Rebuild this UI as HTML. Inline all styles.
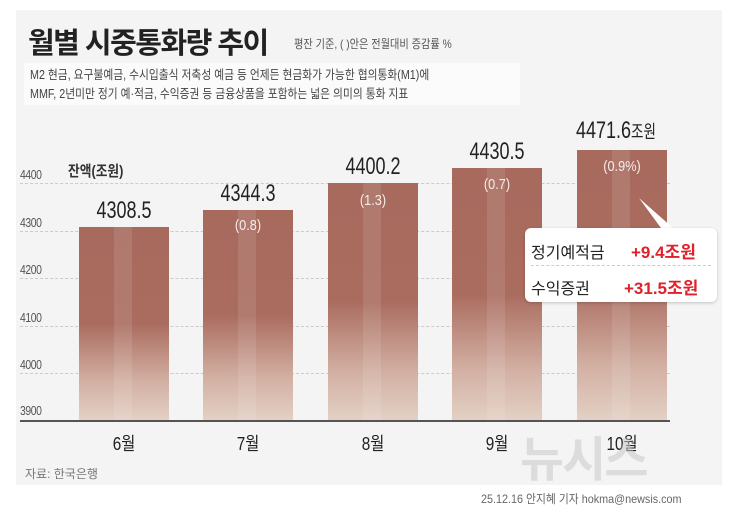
<!DOCTYPE html>
<html><head><meta charset="utf-8"><style>
body{margin:0;width:737px;height:520px;background:#fff;position:relative;overflow:hidden;font-family:"Liberation Sans","Noto Sans CJK KR",sans-serif}
.a{position:absolute;white-space:nowrap}
.panel{left:16px;top:10px;width:706px;height:475px;background:#f5f4f4}
.g{left:20px;width:650px;height:0;border-top:1px dashed #cfcaca}
.t{left:20px;font-size:13px;color:#555;letter-spacing:-0.5px;transform:scaleX(.8);transform-origin:left}
.bar{width:90px;bottom:100px;background:linear-gradient(#a86a5d 0%,#aa6c5f 50%,#d2b0a3 80%,#e3d0c4 100%)}
.bar::after{content:"";position:absolute;left:35px;width:18px;top:0;bottom:0;background:rgba(255,255,255,.1)}
.v{font-size:24px;color:#222;transform:scaleX(.75);transform-origin:center;width:120px;text-align:center}
.p{font-size:15px;color:#f6ecea;width:90px;text-align:center;transform:scaleX(.85)}
.m{font-size:18px;color:#222;width:90px;text-align:center;transform:scaleX(.85)}
</style></head><body>
<div class="a panel"></div>
<div class="a" style="left:28px;top:20px;font-size:29px;font-weight:bold;color:#222;letter-spacing:-1.5px">월별 시중통화량 추이</div>
<div class="a" style="left:294px;top:35px;font-size:12px;color:#555;transform:scaleX(.85);transform-origin:left">평잔 기준, ( )안은 전월대비 증감률 %</div>
<div class="a" style="left:24px;top:63px;width:496px;height:42px;background:#fbfbfb"></div>
<div class="a" style="left:30px;top:66px;font-size:12.5px;color:#444;line-height:19px;transform:scaleX(.86);transform-origin:left">M2 현금, 요구불예금, 수시입출식 저축성 예금 등 언제든 현금화가 가능한 협의통화(M1)에<br>MMF, 2년미만 정기 예·적금, 수익증권 등 금융상품을 포함하는 넓은 의미의 통화 지표</div>

<div class="a g" style="top:183px"></div>
<div class="a g" style="top:231px"></div>
<div class="a g" style="top:278px"></div>
<div class="a g" style="top:326px"></div>
<div class="a g" style="top:373px"></div>
<div class="a t" style="top:167px">4400</div>
<div class="a t" style="top:215px">4300</div>
<div class="a t" style="top:262px">4200</div>
<div class="a t" style="top:310px">4100</div>
<div class="a t" style="top:357px">4000</div>
<div class="a t" style="top:403px">3900</div>
<div class="a" style="left:68px;top:160px;font-size:15px;font-weight:bold;color:#333;transform:scaleX(.85);transform-origin:left">잔액(조원)</div>

<div class="a bar" style="left:79px;top:227px"></div>
<div class="a bar" style="left:203px;top:210px"></div>
<div class="a bar" style="left:328px;top:183px"></div>
<div class="a bar" style="left:452px;top:168px"></div>
<div class="a bar" style="left:577px;top:150px"></div>
<div class="a" style="left:20px;top:420px;width:650px;height:2px;background:#555"></div>

<div class="a v" style="left:64px;top:197px">4308.5</div>
<div class="a v" style="left:188px;top:180px">4344.3</div>
<div class="a v" style="left:313px;top:153px">4400.2</div>
<div class="a v" style="left:437px;top:138px">4430.5</div>
<div class="a" style="left:576px;top:117px;font-size:24px;color:#222;transform:scaleX(.75);transform-origin:left">4471.6<span style="font-size:18px">조원</span></div>

<div class="a p" style="left:203px;top:217px">(0.8)</div>
<div class="a p" style="left:328px;top:192px">(1.3)</div>
<div class="a p" style="left:452px;top:176px">(0.7)</div>
<div class="a p" style="left:577px;top:158px">(0.9%)</div>

<div class="a m" style="left:79px;top:430px">6월</div>
<div class="a m" style="left:203px;top:430px">7월</div>
<div class="a m" style="left:328px;top:430px">8월</div>
<div class="a m" style="left:452px;top:430px">9월</div>
<div class="a m" style="left:577px;top:430px">10월</div>

<div class="a" style="left:520px;top:420px;font-size:48px;font-weight:bold;color:rgba(200,200,200,.55);letter-spacing:-2px">뉴시스</div>

<svg class="a" style="left:635px;top:195px" width="40" height="40"><polygon points="4,3 26,33 38,33" fill="#fff"/></svg>
<div class="a" style="left:525px;top:228px;width:192px;height:74px;background:#fff;border-radius:6px;box-shadow:0 1px 3px rgba(0,0,0,.2)"></div>
<div class="a" style="left:531px;top:265px;width:180px;border-top:1px dashed #ccc"></div>
<div class="a" style="left:531px;top:239px;font-size:16px;color:#222">정기예적금</div>
<div class="a" style="left:631px;top:238px;font-size:17px;font-weight:bold;color:#e0202a">+9.4조원</div>
<div class="a" style="left:531px;top:275px;font-size:16px;color:#222">수익증권</div>
<div class="a" style="left:624px;top:274px;font-size:17px;font-weight:bold;color:#e0202a">+31.5조원</div>

<div class="a" style="left:25px;top:465px;font-size:12px;color:#777">자료: 한국은행</div>
<div class="a" style="left:481px;top:490px;font-size:12px;color:#666;transform:scaleX(.9);transform-origin:left">25.12.16 안지혜 기자 hokma@newsis.com</div>
</body></html>
